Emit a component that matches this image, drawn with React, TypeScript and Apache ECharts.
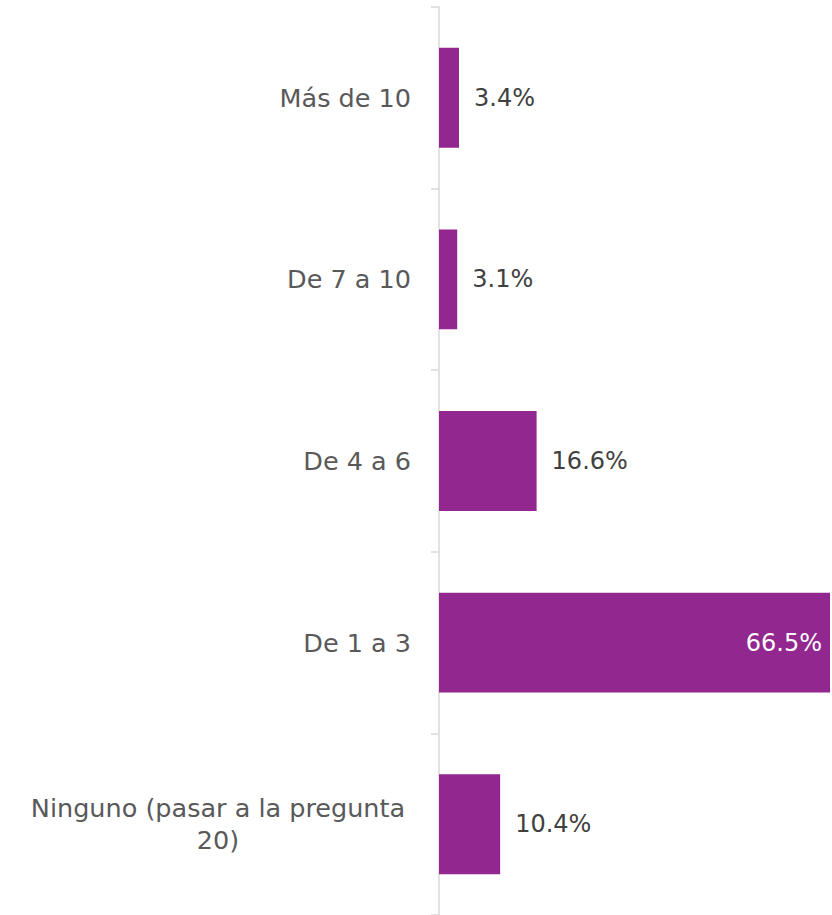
import React, { useEffect, useRef } from "react";
import * as echarts from "echarts";

const categories = [
  "Ninguno (pasar a la pregunta 20)",
  "De 1 a 3",
  "De 4 a 6",
  "De 7 a 10",
  "Más de 10",
];
const values = [10.4, 66.5, 16.6, 3.1, 3.4];
const insideIndex = 1;

export default function App() {
  const ref = useRef<HTMLDivElement>(null);
  useEffect(() => {
    document.body.style.margin = "0";
    const chart = echarts.init(ref.current!, null, { renderer: "svg" });
    const font = "'DejaVu Sans', sans-serif";
    chart.setOption({
      animation: false,
      backgroundColor: "#ffffff",
      grid: { left: 439, right: 2, top: 7, height: 910, containLabel: false },
      xAxis: { type: "value", min: 0, max: 66.5, show: false, splitLine: { show: false } },
      yAxis: {
        type: "category",
        data: categories,
        offset: 2,
        axisLine: { show: true, lineStyle: { color: "#d9d9d9", width: 1.5 } },
        axisTick: { show: true, length: 8, lineStyle: { color: "#d9d9d9", width: 1.5 } },
        axisLabel: {
          margin: 26,
          color: "#595959",
          fontFamily: font,
          fontSize: 25.5,
          lineHeight: 32,
          formatter: (v: string) => {
            if (v.length > 20) {
              const i = v.lastIndexOf(" ");
              return "{c|" + v.slice(0, i) + "}\n{c|" + v.slice(i + 1) + "}";
            }
            return v;
          },
          rich: {
            c: {
              width: 386,
              align: "center",
              color: "#595959",
              fontFamily: font,
              fontSize: 25.5,
              lineHeight: 32,
            },
          },
        },
      },
      series: [
        {
          type: "bar",
          barCategoryGap: "45%",
          itemStyle: { color: "#92278F" },
          data: values.map((v, i) =>
            i === insideIndex
              ? {
                  value: v,
                  label: { position: "insideRight", color: "#ffffff", distance: 8 },
                }
              : v
          ),
          label: {
            show: true,
            position: "right",
            distance: 15,
            color: "#404040",
            fontFamily: font,
            fontSize: 24,
            formatter: (p: any) => p.value.toFixed(1) + "%",
          },
        },
      ],
    });
    return () => chart.dispose();
  }, []);
  return <div ref={ref} style={{ width: 832, height: 915 }} />;
}
